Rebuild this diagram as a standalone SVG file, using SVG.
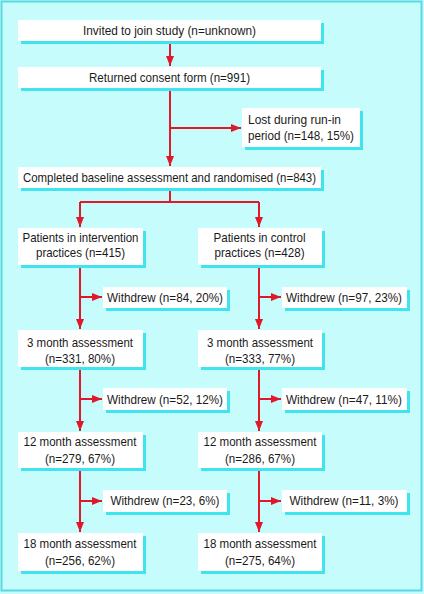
<svg xmlns="http://www.w3.org/2000/svg" width="424" height="594" viewBox="0 0 424 594">
<defs>
<marker id="ah" markerWidth="10" markerHeight="8" refX="10" refY="4" orient="auto" markerUnits="userSpaceOnUse">
<path d="M0,0 L10,4 L0,8 Z" fill="#e0182a"/>
</marker>
<style>
.sh{fill:#3fe4ee}
.bx{fill:#ffffff}
.t{font-family:"Liberation Sans",Arial,sans-serif;font-size:13.5px;fill:#1a1a1a}
.c{text-anchor:middle}
.ln{stroke:#e0182a;stroke-width:2;fill:none}
</style>
</defs>
<rect x="0" y="0" width="424" height="594" fill="#c6fcfc"/>
<rect x="1.5" y="1.5" width="420" height="589" fill="none" stroke="#5ad9e2" stroke-width="2"/>

<g id="connectors">
<path class="ln" d="M170,41 V66" marker-end="url(#ah)"/>
<path class="ln" d="M170,88 V166" marker-end="url(#ah)"/>
<path class="ln" d="M170,128 H241" marker-end="url(#ah)"/>
<path class="ln" d="M170,188 V202 M80,202 H259"/>
<path class="ln" d="M80,202 V227" marker-end="url(#ah)"/>
<path class="ln" d="M259,202 V227" marker-end="url(#ah)"/>
<path class="ln" d="M80,265 V329" marker-end="url(#ah)"/>
<path class="ln" d="M80,297 H102" marker-end="url(#ah)"/>
<path class="ln" d="M259,265 V329" marker-end="url(#ah)"/>
<path class="ln" d="M259,297 H281" marker-end="url(#ah)"/>
<path class="ln" d="M80,367 V431" marker-end="url(#ah)"/>
<path class="ln" d="M80,399 H102" marker-end="url(#ah)"/>
<path class="ln" d="M259,367 V431" marker-end="url(#ah)"/>
<path class="ln" d="M259,399 H281" marker-end="url(#ah)"/>
<path class="ln" d="M80,468 V532" marker-end="url(#ah)"/>
<path class="ln" d="M80,501 H102" marker-end="url(#ah)"/>
<path class="ln" d="M259,468 V532" marker-end="url(#ah)"/>
<path class="ln" d="M259,501 H281" marker-end="url(#ah)"/>
</g>

<g id="invited">
<rect class="sh" x="21" y="23" width="303" height="21"/>
<rect class="bx" x="18" y="20" width="303" height="21"/>
<text class="t c" x="169.5" y="35" textLength="173" lengthAdjust="spacingAndGlyphs">Invited to join study (n=unknown)</text>
</g>
<g id="consent">
<rect class="sh" x="21" y="70" width="303" height="21"/>
<rect class="bx" x="18" y="67" width="303" height="21"/>
<text class="t c" x="169.5" y="82" textLength="161" lengthAdjust="spacingAndGlyphs">Returned consent form (n=991)</text>
</g>
<g id="lost">
<rect class="sh" x="245" y="111" width="118" height="39"/>
<rect class="bx" x="242" y="108" width="118" height="39"/>
<text class="t" x="248" y="123.5" textLength="93" lengthAdjust="spacingAndGlyphs">Lost during run-in</text>
<text class="t" x="248" y="139.5" textLength="106" lengthAdjust="spacingAndGlyphs">period (n=148, 15%)</text>
</g>
<g id="baseline">
<rect class="sh" x="21" y="170" width="303" height="21"/>
<rect class="bx" x="18" y="167" width="303" height="21"/>
<text class="t c" x="169.5" y="182" textLength="293" lengthAdjust="spacingAndGlyphs">Completed baseline assessment and randomised (n=843)</text>
</g>

<g id="intervention">
<rect class="sh" x="21" y="231" width="125" height="37"/>
<rect class="bx" x="18" y="228" width="125" height="37"/>
<text class="t c" x="80.5" y="241.7" textLength="116" lengthAdjust="spacingAndGlyphs">Patients in intervention</text>
<text class="t c" x="80.5" y="257.3" textLength="89" lengthAdjust="spacingAndGlyphs">practices (n=415)</text>
</g>
<g id="control">
<rect class="sh" x="201" y="231" width="124" height="37"/>
<rect class="bx" x="198" y="228" width="124" height="37"/>
<text class="t c" x="259.5" y="241.7" textLength="92" lengthAdjust="spacingAndGlyphs">Patients in control</text>
<text class="t c" x="259.5" y="257.3" textLength="90" lengthAdjust="spacingAndGlyphs">practices (n=428)</text>
</g>

<g id="withdrew-l1">
<rect class="sh" x="106" y="290" width="124" height="21"/>
<rect class="bx" x="103" y="287" width="124" height="21"/>
<text class="t c" x="165" y="301.5" textLength="116" lengthAdjust="spacingAndGlyphs">Withdrew (n=84, 20%)</text>
</g>
<g id="withdrew-r1">
<rect class="sh" x="285" y="290" width="125" height="21"/>
<rect class="bx" x="282" y="287" width="125" height="21"/>
<text class="t c" x="344" y="301.5" textLength="116" lengthAdjust="spacingAndGlyphs">Withdrew (n=97, 23%)</text>
</g>

<g id="m3-l">
<rect class="sh" x="21" y="333" width="125" height="37"/>
<rect class="bx" x="18" y="330" width="125" height="37"/>
<text class="t c" x="80" y="346.5" textLength="106" lengthAdjust="spacingAndGlyphs">3 month assessment</text>
<text class="t c" x="80" y="362.5" textLength="70" lengthAdjust="spacingAndGlyphs">(n=331, 80%)</text>
</g>
<g id="m3-r">
<rect class="sh" x="201" y="333" width="124" height="37"/>
<rect class="bx" x="198" y="330" width="124" height="37"/>
<text class="t c" x="260" y="346.5" textLength="106" lengthAdjust="spacingAndGlyphs">3 month assessment</text>
<text class="t c" x="260" y="362.5" textLength="70" lengthAdjust="spacingAndGlyphs">(n=333, 77%)</text>
</g>

<g id="withdrew-l2">
<rect class="sh" x="106" y="391" width="124" height="22"/>
<rect class="bx" x="103" y="388" width="124" height="22"/>
<text class="t c" x="165" y="403.5" textLength="116" lengthAdjust="spacingAndGlyphs">Withdrew (n=52, 12%)</text>
</g>
<g id="withdrew-r2">
<rect class="sh" x="285" y="391" width="125" height="22"/>
<rect class="bx" x="282" y="388" width="125" height="22"/>
<text class="t c" x="344" y="403.5" textLength="116" lengthAdjust="spacingAndGlyphs">Withdrew (n=47, 11%)</text>
</g>

<g id="m12-l">
<rect class="sh" x="21" y="435" width="125" height="36"/>
<rect class="bx" x="18" y="432" width="125" height="36"/>
<text class="t c" x="80" y="445.7" textLength="113" lengthAdjust="spacingAndGlyphs">12 month assessment</text>
<text class="t c" x="80" y="462.5" textLength="70" lengthAdjust="spacingAndGlyphs">(n=279, 67%)</text>
</g>
<g id="m12-r">
<rect class="sh" x="201" y="435" width="124" height="36"/>
<rect class="bx" x="198" y="432" width="124" height="36"/>
<text class="t c" x="260" y="445.7" textLength="113" lengthAdjust="spacingAndGlyphs">12 month assessment</text>
<text class="t c" x="260" y="462.5" textLength="70" lengthAdjust="spacingAndGlyphs">(n=286, 67%)</text>
</g>

<g id="withdrew-l3">
<rect class="sh" x="106" y="493" width="124" height="22"/>
<rect class="bx" x="103" y="490" width="124" height="22"/>
<text class="t c" x="165" y="505" textLength="109" lengthAdjust="spacingAndGlyphs">Withdrew (n=23, 6%)</text>
</g>
<g id="withdrew-r3">
<rect class="sh" x="285" y="493" width="125" height="22"/>
<rect class="bx" x="282" y="490" width="125" height="22"/>
<text class="t c" x="344" y="505" textLength="109" lengthAdjust="spacingAndGlyphs">Withdrew (n=11, 3%)</text>
</g>

<g id="m18-l">
<rect class="sh" x="21" y="536" width="125" height="38"/>
<rect class="bx" x="18" y="533" width="125" height="38"/>
<text class="t c" x="80" y="548.3" textLength="113" lengthAdjust="spacingAndGlyphs">18 month assessment</text>
<text class="t c" x="80" y="565" textLength="70" lengthAdjust="spacingAndGlyphs">(n=256, 62%)</text>
</g>
<g id="m18-r">
<rect class="sh" x="201" y="536" width="124" height="38"/>
<rect class="bx" x="198" y="533" width="124" height="38"/>
<text class="t c" x="260" y="548.3" textLength="113" lengthAdjust="spacingAndGlyphs">18 month assessment</text>
<text class="t c" x="260" y="565" textLength="70" lengthAdjust="spacingAndGlyphs">(n=275, 64%)</text>
</g>
</svg>
